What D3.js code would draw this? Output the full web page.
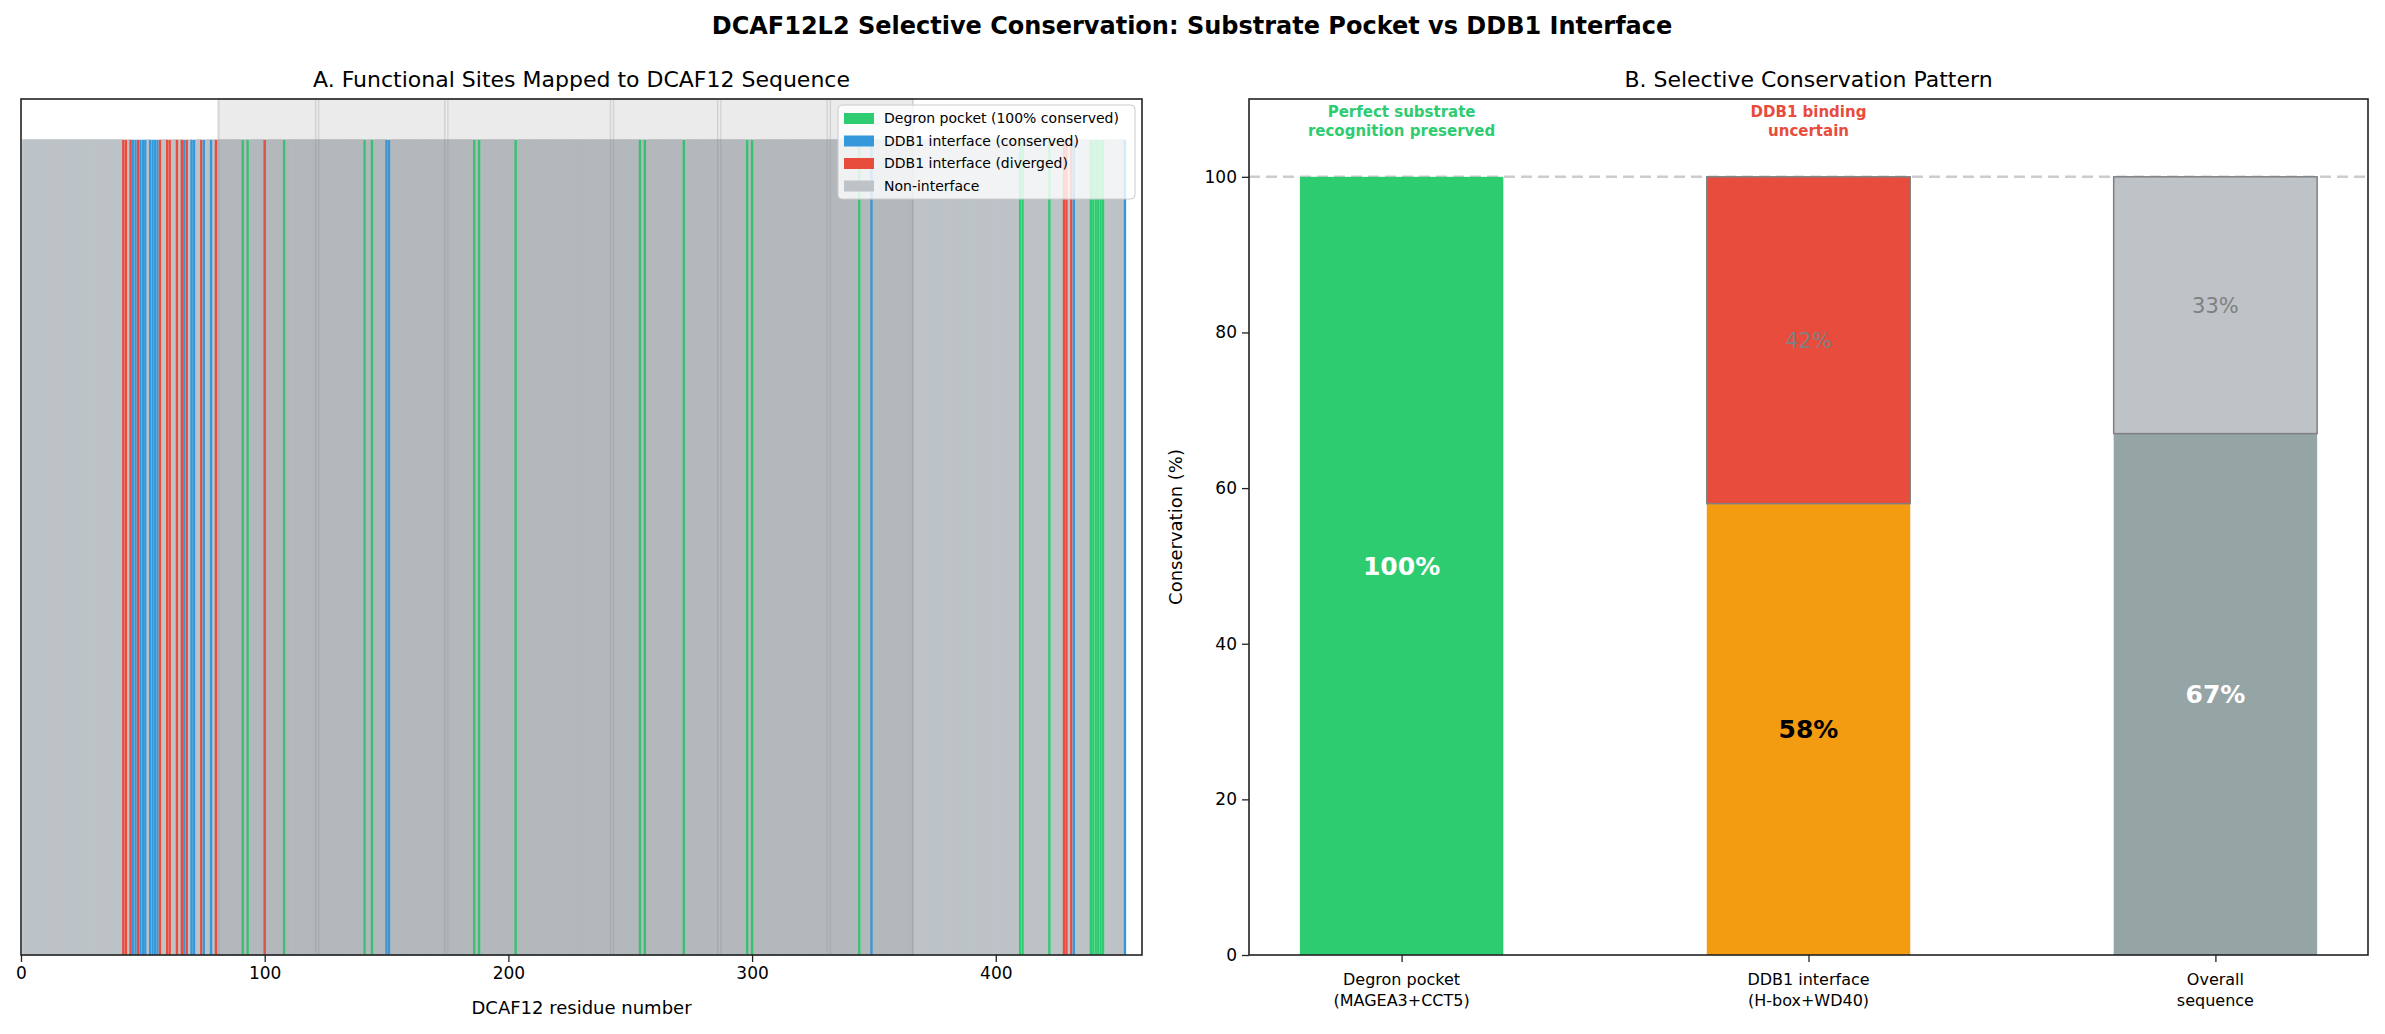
<!DOCTYPE html>
<html>
<head>
<meta charset="utf-8">
<script src="https://cdn.jsdelivr.net/npm/d3@7"></script>
<style>
  body { margin: 0; background: #fff; }
  text { font-family: "DejaVu Sans", sans-serif; }
</style>
</head>
<body>
<svg id="chart" width="2385" height="1034"></svg>
<script>
// Panel A data: residues of DCAF12 (length 453)
var seqLength = 453;
var degronSites = [91, 93, 108, 141, 144, 186, 188, 203, 254, 256, 272, 298, 300, 344, 410, 411, 422, 439, 440, 441, 442, 443, 444];
var ddb1Conserved = [46, 47, 49, 50, 51, 53, 54, 55, 56, 67, 70, 71, 75, 78, 150, 151, 349, 432, 453];
var ddb1Diverged = [42, 43, 45, 48, 57, 60, 61, 64, 66, 68, 74, 80, 100, 428, 429, 431];
// WD40 blade spans [start, end]
var bladeStarts = [81, 122, 175, 243, 287, 332];
var bladeEnds = [121, 174, 242, 286, 331, 366];
var xTicksA = [0, 100, 200, 300, 400];

// Panel B data
var categories = ["Degron pocket\n(MAGEA3+CCT5)", "DDB1 interface\n(H-box+WD40)", "Overall\nsequence"];
var conserved = [100, 58, 67];
var diverged = [0, 42, 33];
var yTicksB = [0, 20, 40, 60, 80, 100];

var colors = { degron: "#2ecc71", cons: "#3498db", div: "#e74c3c", non: "#bdc3c7" };

var svg = d3.select("#chart");

svg.append("text").attr("x", 1192).attr("y", 34).attr("text-anchor", "middle")
    .attr("font-size", 24).attr("font-weight", "bold")
    .text("DCAF12L2 Selective Conservation: Substrate Pocket vs DDB1 Interface");

// ---------- Panel A ----------
var A = { left: 21, right: 1142, top: 99, bottom: 955 };
var xA = d3.scaleLinear().domain([0, 460]).range([A.left, A.right]);
var yA = d3.scaleLinear().domain([0, 1.05]).range([A.bottom, A.top]);
var gA = svg.append("g");

// residue bars
var residues = d3.range(1, seqLength + 1).map(function (i) {
    var c = colors.non;
    if (degronSites.indexOf(i) >= 0) c = colors.degron;
    else if (ddb1Diverged.indexOf(i) >= 0) c = colors.div;
    else if (ddb1Conserved.indexOf(i) >= 0) c = colors.cons;
    return { i: i, c: c };
});
// gray first, colored on top
residues.sort(function (a, b) { return (a.c === colors.non ? 0 : 1) - (b.c === colors.non ? 0 : 1); });
gA.selectAll("rect.res").data(residues).enter().append("rect")
    .attr("x", function (d) { return xA(d.i - 0.5); })
    .attr("width", function (d) { return xA(d.i + 0.5) - xA(d.i - 0.5) + (d.c === colors.non ? 1 : 0); })
    .attr("y", yA(1)).attr("height", yA(0) - yA(1))
    .attr("fill", function (d) { return d.c; })
    .attr("stroke", function (d) { return d.c === colors.non ? d.c : "none"; })
    .attr("stroke-width", 0.6);

// blade shading
gA.selectAll("rect.blade").data(bladeStarts).enter().append("rect")
    .attr("x", function (d) { return xA(d); })
    .attr("width", function (d, i) { return xA(bladeEnds[i]) - xA(d); })
    .attr("y", A.top).attr("height", A.bottom - A.top)
    .attr("fill", "gray").attr("fill-opacity", 0.16)
    .attr("stroke", "gray").attr("stroke-opacity", 0.25).attr("stroke-width", 2);

gA.append("rect").attr("x", A.left).attr("y", A.top).attr("width", A.right - A.left).attr("height", A.bottom - A.top)
    .attr("fill", "none").attr("stroke", "#222").attr("stroke-width", 1.6);

var axA = gA.append("g").attr("transform", "translate(0," + A.bottom + ")")
    .call(d3.axisBottom(xA).tickValues(xTicksA).tickSize(7).tickPadding(5));
axA.select(".domain").remove();
axA.selectAll("text").attr("font-size", 17).attr("fill", "#000");
axA.selectAll("line").attr("stroke", "#222").attr("stroke-width", 1.3);

gA.append("text").attr("x", (A.left + A.right) / 2).attr("y", 1014).attr("text-anchor", "middle")
    .attr("font-size", 18).text("DCAF12 residue number");
gA.append("text").attr("x", (A.left + A.right) / 2).attr("y", 87).attr("text-anchor", "middle")
    .attr("font-size", 22).text("A. Functional Sites Mapped to DCAF12 Sequence");

// legend
var legendItems = [
    ["Degron pocket (100% conserved)", colors.degron],
    ["DDB1 interface (conserved)", colors.cons],
    ["DDB1 interface (diverged)", colors.div],
    ["Non-interface", colors.non]
];
var lg = gA.append("g").attr("transform", "translate(838,105)");
lg.append("rect").attr("width", 297).attr("height", 94).attr("rx", 4)
    .attr("fill", "#fff").attr("fill-opacity", 0.8).attr("stroke", "#ccc");
legendItems.forEach(function (d, i) {
    lg.append("rect").attr("x", 6).attr("y", 8 + i * 22.5).attr("width", 30).attr("height", 11).attr("fill", d[1]);
    lg.append("text").attr("x", 46).attr("y", 18 + i * 22.5).attr("font-size", 14).text(d[0]);
});

// ---------- Panel B ----------
var B = { left: 1249, right: 2368, top: 99, bottom: 955 };
var xB = d3.scaleLinear().domain([-0.375, 2.375]).range([B.left, B.right]);
var yB = d3.scaleLinear().domain([0, 110]).range([B.bottom, B.top]);
var gB = svg.append("g");
var bw = 0.5;
var bottomColors = [colors.degron, "#f39c12", "#95a5a6"];
var topColors = [colors.degron, colors.div, colors.non];

gB.append("line").attr("x1", B.left).attr("x2", B.right).attr("y1", yB(100)).attr("y2", yB(100))
    .attr("stroke", "#ccc").attr("stroke-width", 2.5).attr("stroke-dasharray", "11,6");

gB.selectAll("rect.cons").data(conserved).enter().append("rect")
    .attr("x", function (d, i) { return xB(i - bw / 2); })
    .attr("width", xB(bw) - xB(0))
    .attr("y", function (d) { return yB(d); })
    .attr("height", function (d) { return yB(0) - yB(d); })
    .attr("fill", function (d, i) { return bottomColors[i]; });

gB.selectAll("rect.div").data(diverged).enter().append("rect")
    .attr("x", function (d, i) { return xB(i - bw / 2); })
    .attr("width", xB(bw) - xB(0))
    .attr("y", function (d, i) { return yB(conserved[i] + d); })
    .attr("height", function (d) { return yB(0) - yB(d); })
    .attr("fill", function (d, i) { return topColors[i]; })
    .attr("stroke", "gray").attr("stroke-width", 1.5);

// value labels
var consLabelColor = ["#fff", "#000", "#fff"];
conserved.forEach(function (v, i) {
    gB.append("text").attr("x", xB(i)).attr("y", yB(v / 2)).attr("dy", "0.36em")
        .attr("text-anchor", "middle").attr("font-size", 25).attr("font-weight", "bold")
        .attr("fill", consLabelColor[i]).text(v + "%");
    if (diverged[i] > 0) {
        gB.append("text").attr("x", xB(i)).attr("y", yB(v + diverged[i] / 2)).attr("dy", "0.36em")
            .attr("text-anchor", "middle").attr("font-size", 21).attr("fill", "gray")
            .text(diverged[i] + "%");
    }
});

// annotations
var notes = [[0, ["Perfect substrate", "recognition preserved"], colors.degron], [1, ["DDB1 binding", "uncertain"], colors.div]];
notes.forEach(function (n) {
    n[1].forEach(function (line, j) {
        gB.append("text").attr("x", xB(n[0])).attr("y", 117 + j * 19).attr("text-anchor", "middle")
            .attr("font-size", 15).attr("font-weight", "bold").attr("fill", n[2]).text(line);
    });
});

gB.append("rect").attr("x", B.left).attr("y", B.top).attr("width", B.right - B.left).attr("height", B.bottom - B.top)
    .attr("fill", "none").attr("stroke", "#222").attr("stroke-width", 1.6);

var ayB = gB.append("g").attr("transform", "translate(" + B.left + ",0)")
    .call(d3.axisLeft(yB).tickValues(yTicksB).tickSize(7).tickPadding(5));
ayB.select(".domain").remove();
ayB.selectAll("text").attr("font-size", 17).attr("fill", "#000");
ayB.selectAll("line").attr("stroke", "#222").attr("stroke-width", 1.3);

var axB = gB.append("g").attr("transform", "translate(0," + B.bottom + ")")
    .call(d3.axisBottom(xB).tickValues([0, 1, 2]).tickSize(7).tickFormat(""));
axB.select(".domain").remove();
axB.selectAll("line").attr("stroke", "#222").attr("stroke-width", 1.3);
categories.forEach(function (c, i) {
    c.split("\n").forEach(function (line, j) {
        gB.append("text").attr("x", xB(i)).attr("y", 985 + j * 21).attr("text-anchor", "middle")
            .attr("font-size", 16).text(line);
    });
});

gB.append("text").attr("transform", "translate(1182," + (B.top + B.bottom) / 2 + ") rotate(-90)")
    .attr("text-anchor", "middle").attr("font-size", 18).text("Conservation (%)");
gB.append("text").attr("x", (B.left + B.right) / 2).attr("y", 87).attr("text-anchor", "middle")
    .attr("font-size", 22).text("B. Selective Conservation Pattern");
</script>
</body>
</html>
